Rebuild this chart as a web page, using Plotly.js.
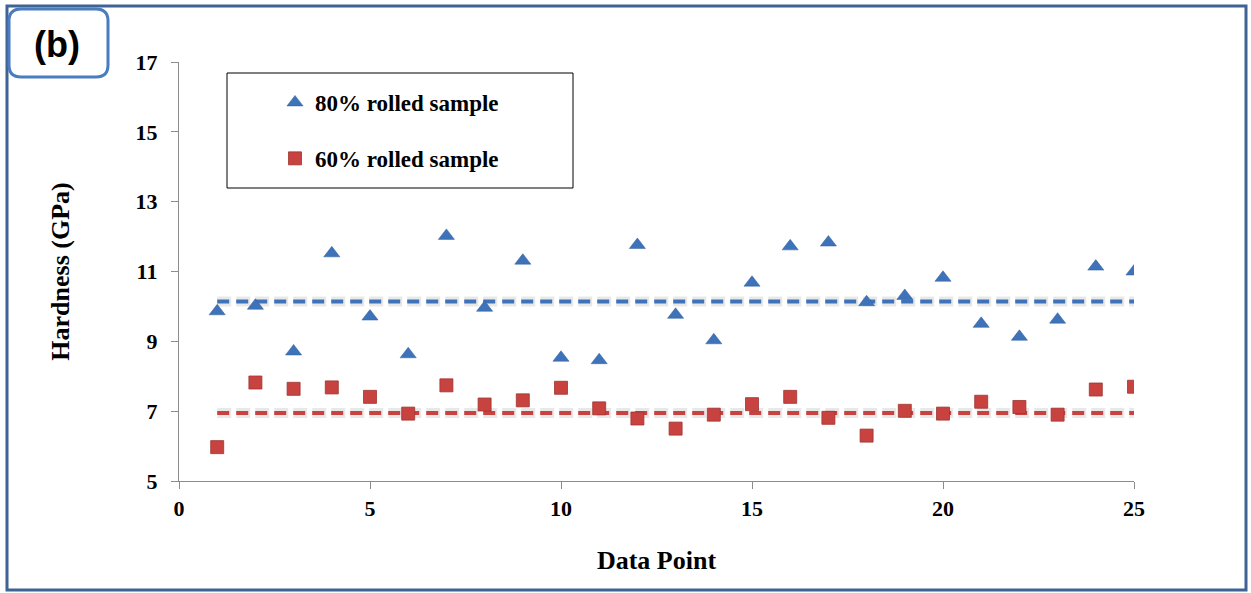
<!DOCTYPE html>
<html>
<head>
<meta charset="utf-8">
<script src="https://cdn.plot.ly/plotly-3.0.1.min.js"></script>
<style>
  html, body { margin: 0; padding: 0; background: #ffffff; }
  #chart { width: 1251px; height: 593px; }
</style>
</head>
<body>
<div id="chart"></div>
<script>
// ---- data ----
const dataPoints = [1,2,3,4,5,6,7,8,9,10,11,12,13,14,15,16,17,18,19,20,21,22,23,24,25];
const hardness80 = [9.86,10.02,8.71,11.52,9.71,8.63,12.02,9.96,11.31,8.53,8.46,11.76,9.76,9.03,10.68,11.72,11.83,10.12,10.30,10.82,9.50,9.13,9.62,11.14,11.00];
const hardness60 = [5.97,7.82,7.64,7.68,7.41,6.93,7.74,7.19,7.31,7.67,7.08,6.79,6.50,6.90,7.20,7.41,6.81,6.30,7.01,6.93,7.27,7.12,6.90,7.62,7.70];
const meanLineX = [1, 25.15];
const mean80 = 10.14;
const mean60 = 6.95;
const seriesNames = ['80% rolled sample', '60% rolled sample'];
const xTicks = [0,5,10,15,20,25];
const yTicks = [5,7,9,11,13,15,17];

const blue = '#3e73b9';
const red = '#c8433f';
const serif = '"Liberation Serif", "Times New Roman", serif';

const traces = [
  { x: meanLineX, y: [mean80, mean80], mode: 'lines', showlegend: false, hoverinfo: 'skip',
    line: { color: 'rgba(110,110,110,0.16)', width: 10, dash: '14px,5px' } },
  { x: meanLineX, y: [mean60, mean60], mode: 'lines', showlegend: false, hoverinfo: 'skip',
    line: { color: 'rgba(110,110,110,0.16)', width: 10, dash: '14px,5px' } },
  { x: meanLineX, y: [mean80, mean80], mode: 'lines', showlegend: false,
    line: { color: blue, width: 4, dash: '12px,7px' } },
  { x: meanLineX, y: [mean60, mean60], mode: 'lines', showlegend: false,
    line: { color: red, width: 4, dash: '12px,7px' } },
  { x: dataPoints, y: hardness80, mode: 'markers', name: seriesNames[0], legendgroup: 'a',
    marker: { symbol: 'triangle-up', size: 14, color: blue, line: { color: '#2f5f9c', width: 0.5 } } },
  { x: dataPoints, y: hardness60, mode: 'markers', name: seriesNames[1], legendgroup: 'b',
    marker: { symbol: 'square', size: 13, color: red, line: { color: '#9e3330', width: 0.8 } } }
];

// plot area: x 179..1134, y 62..481
const L = 179, R = 1134, T = 62, B = 481;
const px = v => (v - L) / (R - L);
const py = v => (B - v) / (B - T);

const layout = {
  width: 1251, height: 593,
  paper_bgcolor: '#ffffff', plot_bgcolor: '#ffffff',
  margin: { l: L, r: 1251 - R, t: T, b: 593 - B },
  font: { family: serif, color: '#000000' },
  showlegend: true,
  legend: {
    x: px(275), y: py(81), xanchor: 'left', yanchor: 'top',
    bgcolor: 'rgba(0,0,0,0)', borderwidth: 0,
    font: { family: serif, size: 23, color: '#000000', weight: 'bold' },
    tracegroupgap: 23, itemwidth: 30
  },
  xaxis: {
    range: [0, 25], tickvals: xTicks, ticktext: xTicks.map(String),
    showgrid: false, zeroline: false, showline: true, linecolor: '#8c8c8c', linewidth: 1.2,
    ticks: 'outside', ticklen: 7, tickcolor: '#8c8c8c', tickwidth: 1,
    tickfont: { family: serif, size: 22, color: '#000000', weight: 'bold' },
    title: { text: 'Data Point', font: { family: serif, size: 26, color: '#000000', weight: 'bold' }, standoff: 31 },
    automargin: false
  },
  yaxis: {
    range: [5, 17], tickvals: yTicks, ticktext: yTicks.map(String),
    showgrid: false, zeroline: false, showline: true, linecolor: '#8c8c8c', linewidth: 1.2,
    ticks: 'outside', ticklen: 7, tickcolor: '#8c8c8c', tickwidth: 1, ticklabelstandoff: 9,
    tickfont: { family: serif, size: 22, color: '#000000', weight: 'bold' },
    title: { text: 'Hardness (GPa)', font: { family: serif, size: 26, color: '#000000', weight: 'bold' }, standoff: 58 },
    automargin: false
  },
  shapes: [
    // outer frame
    { type: 'rect', xref: 'paper', yref: 'paper', x0: px(7), x1: px(1246), y0: py(590), y1: py(6),
      line: { color: '#3f6394', width: 3 }, layer: 'below' },
    // legend box
    { type: 'rect', xref: 'paper', yref: 'paper', x0: px(227), x1: px(573), y0: py(188), y1: py(73),
      line: { color: '#000000', width: 1 }, layer: 'below' },
    // (b) rounded label box
    { type: 'path', xref: 'paper', yref: 'paper', layer: 'above',
      path: (function () {
        const x0 = 9, x1 = 108, y0 = 9, y1 = 77, r = 12;
        const p = (x, y) => px(x) + ',' + py(y);
        return 'M' + p(x0 + r, y0) + ' L' + p(x1 - r, y0) + ' Q' + p(x1, y0) + ' ' + p(x1, y0 + r) +
               ' L' + p(x1, y1 - r) + ' Q' + p(x1, y1) + ' ' + p(x1 - r, y1) +
               ' L' + p(x0 + r, y1) + ' Q' + p(x0, y1) + ' ' + p(x0, y1 - r) +
               ' L' + p(x0, y0 + r) + ' Q' + p(x0, y0) + ' ' + p(x0 + r, y0) + ' Z';
      })(),
      line: { color: '#4a7cc0', width: 3 }, fillcolor: '#ffffff' }
  ],
  annotations: [
    { text: '(b)', xref: 'paper', yref: 'paper', x: px(57), y: py(45), xanchor: 'center', yanchor: 'middle',
      showarrow: false, font: { family: '"Liberation Sans", Arial, sans-serif', size: 36, color: '#000000', weight: 'bold' } }
  ]
};

Plotly.newPlot('chart', traces, layout, { displayModeBar: false, staticPlot: true });
</script>
</body>
</html>
